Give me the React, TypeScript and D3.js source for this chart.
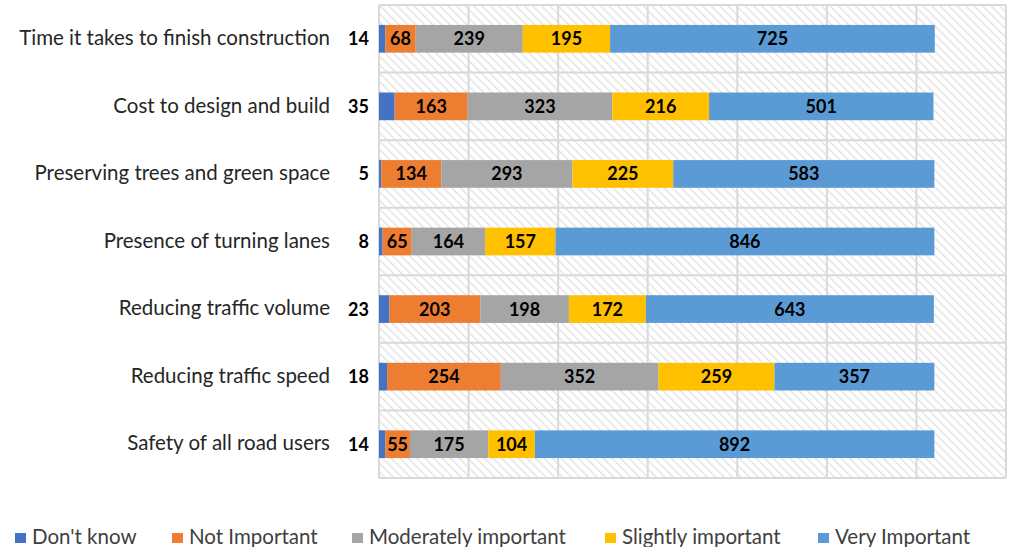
import { useEffect, useRef } from 'react';
import * as d3 from 'd3';

const categories = [
  'Time it takes to finish construction',
  'Cost to design and build',
  'Preserving trees and green space',
  'Presence of turning lanes',
  'Reducing traffic volume',
  'Reducing traffic speed',
  'Safety of all road users',
];
const seriesNames = ["Don't know", 'Not Important', 'Moderately important', 'Slightly important', 'Very Important'];
const dontKnow = [14, 35, 5, 8, 23, 18, 14];
const notImportant = [68, 163, 134, 65, 203, 254, 55];
const moderately = [239, 323, 293, 164, 198, 352, 175];
const slightly = [195, 216, 225, 157, 172, 259, 104];
const veryImportant = [725, 501, 583, 846, 643, 357, 892];
const colors = ['#4472C4', '#ED7D31', '#A5A5A5', '#FFC000', '#5B9BD5'];
const xTicks = [0, 200, 400, 600, 800, 1000, 1200, 1400];

export default function App() {
  const ref = useRef<SVGSVGElement>(null);

  useEffect(() => {
    if (!ref.current) return;
    const svg = d3.select(ref.current);
    svg.selectAll('*').remove();

    const left = 379, right = 1006, top = 5, bottom = 478;
    const rows = categories.map((c, i) => ({
      cat: c,
      vals: [dontKnow[i], notImportant[i], moderately[i], slightly[i], veryImportant[i]],
    }));

    const x = d3.scaleLinear().domain([0, 1400]).range([left, right]);
    const y = d3.scaleBand().domain(categories).range([top, bottom]);
    const barH = y.bandwidth() * 0.41;

    // fond hachuré
    const defs = svg.append('defs');
    const pat = defs.append('pattern')
      .attr('id', 'hatch')
      .attr('patternUnits', 'userSpaceOnUse')
      .attr('width', 6).attr('height', 6)
      .attr('patternTransform', 'rotate(-45)');
    pat.append('rect').attr('width', 6).attr('height', 6).attr('fill', '#fff');
    pat.append('line').attr('x1', 0).attr('y1', 0).attr('x2', 0).attr('y2', 6)
      .attr('stroke', '#e0e0e0').attr('stroke-width', 2.5);

    svg.append('rect')
      .attr('x', left).attr('y', top)
      .attr('width', right - left).attr('height', bottom - top)
      .attr('fill', 'url(#hatch)');

    // grille
    svg.append('g').selectAll('line.v')
      .data(xTicks)
      .enter().append('line')
      .attr('x1', d => x(d)).attr('x2', d => x(d))
      .attr('y1', top).attr('y2', bottom)
      .attr('stroke', '#d9d9d9').attr('stroke-width', 2);

    const hLines = categories.map(c => y(c) || 0).concat([bottom]);
    svg.append('g').selectAll('line.h')
      .data(hLines)
      .enter().append('line')
      .attr('x1', left).attr('x2', right)
      .attr('y1', d => d).attr('y2', d => d)
      .attr('stroke', '#d9d9d9').attr('stroke-width', 2);

    // barres empilées
    const g = svg.append('g');
    rows.forEach(r => {
      let acc = 0;
      const yc = (y(r.cat) || 0) + y.bandwidth() / 2;
      r.vals.forEach((v, k) => {
        g.append('rect')
          .attr('x', x(acc))
          .attr('y', yc - barH / 2)
          .attr('width', x(acc + v) - x(acc))
          .attr('height', barH)
          .attr('fill', colors[k]);
        g.append('text')
          .attr('x', k > 0 ? (x(acc) + x(acc + v)) / 2 : x(0) - 10)
          .attr('y', yc)
          .attr('dy', '0.36em')
          .attr('text-anchor', k > 0 ? 'middle' : 'end')
          .style('font-family', 'Lato, sans-serif')
          .style('font-weight', 'bold')
          .style('font-size', '18px')
          .attr('fill', '#000')
          .text(v);
        acc += v;
      });
    });

    // libellés des catégories
    svg.append('g').selectAll('text')
      .data(categories)
      .enter().append('text')
      .attr('x', 330)
      .attr('y', d => (y(d) || 0) + y.bandwidth() / 2)
      .attr('dy', '0.3em')
      .attr('text-anchor', 'end')
      .style('font-family', 'Lato, sans-serif')
      .style('font-size', '20.5px')
      .attr('fill', '#262626')
      .text(d => d);

    // légende
    const legendX = [15, 172, 352, 605, 818];
    const lg = svg.append('g');
    seriesNames.forEach((s, i) => {
      lg.append('rect')
        .attr('x', legendX[i]).attr('y', 533)
        .attr('width', 11).attr('height', 10)
        .attr('fill', colors[i]);
      lg.append('text')
        .attr('x', legendX[i] + 17).attr('y', 544)
        .style('font-family', 'Lato, sans-serif')
        .style('font-size', '20.5px')
        .attr('fill', '#404040')
        .text(s);
    });
  }, []);

  return (
    <div style={{ position: 'absolute', left: 0, top: 0 }}>
      <svg ref={ref} width={1010} height={547} style={{ display: 'block', background: '#fff' }} />
    </div>
  );
}
